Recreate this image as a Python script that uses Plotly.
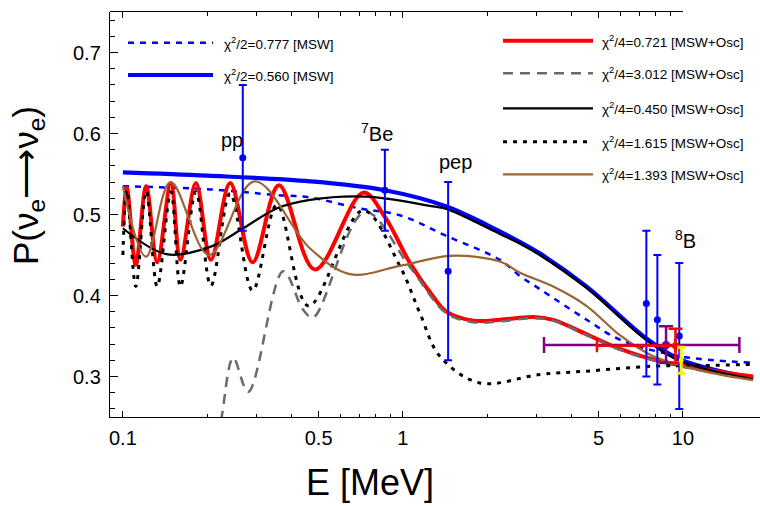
import math
import plotly.graph_objects as go

# ---------------- data ----------------
# MSW, chi^2/2 = 0.777 (blue dotted)
E_msw_a = [0.1, 0.205, 0.354, 0.466, 0.70, 0.976, 1.43, 2.22, 2.62, 3.08, 4.53, 5.95, 9.76, 17.8]
P_msw_a = [0.535, 0.531, 0.524, 0.521, 0.5075, 0.499, 0.4735, 0.444, 0.424, 0.408, 0.370, 0.3455, 0.325, 0.317]

# MSW, chi^2/2 = 0.560 (blue solid)
E_msw_b = [0.1, 0.2, 0.466, 0.862, 1.43, 2.0, 2.62, 3.08, 4.53, 7.4, 9.76, 17.8]
P_msw_b = [0.552, 0.548, 0.541, 0.530, 0.510, 0.487, 0.466, 0.452, 0.411, 0.347, 0.321, 0.298]

# MSW+Osc, chi^2/4 = 0.721 (red)
E_osc_a = [0.1, 0.1033, 0.1112, 0.1211, 0.1326, 0.1484, 0.1605, 0.1823, 0.2062, 0.2416,
           0.2905, 0.3607, 0.485, 0.722, 0.862, 1.06, 1.28, 1.43, 1.78, 2.22, 2.92, 3.44,
           4.53, 5.95, 7.83, 11.8, 17.8]
P_osc_a = [0.485, 0.533, 0.438, 0.535, 0.441, 0.539, 0.444, 0.539, 0.444, 0.539,
           0.441, 0.536, 0.432, 0.527, 0.497, 0.440, 0.399, 0.380, 0.369, 0.370, 0.3735, 0.370,
           0.352, 0.334, 0.321, 0.309, 0.300]

# MSW+Osc, chi^2/4 = 3.012 (gray dashed)
E_osc_b = [0.218, 0.2255, 0.2477, 0.2803, 0.3737, 0.44, 0.478, 0.732, 1.06, 1.43, 1.78,
           2.22, 2.92, 3.44, 4.53, 5.95, 7.83, 11.8, 17.8]
P_osc_b = [0.225, 0.251, 0.323, 0.281, 0.430, 0.3825, 0.373, 0.503, 0.435, 0.378, 0.367,
           0.368, 0.372, 0.369, 0.351, 0.333, 0.320, 0.307, 0.297]

# MSW+Osc, chi^2/4 = 0.450 (black solid)
E_osc_c = [0.1, 0.143, 0.205, 0.269, 0.354, 0.466, 0.742, 1.28, 1.43, 2.22, 2.62, 3.08, 4.53, 7.4, 9.76, 17.8]
P_osc_c = [0.483, 0.451, 0.460, 0.483, 0.5075, 0.518, 0.522, 0.510, 0.507, 0.476, 0.464, 0.450, 0.409, 0.345, 0.319, 0.2965]

# MSW+Osc, chi^2/4 = 1.615 (black dotted)
E_osc_d = [0.1, 0.1033, 0.1112, 0.1211, 0.1326, 0.1484, 0.1605, 0.1823, 0.2062, 0.2416,
           0.2905, 0.355, 0.46, 0.72, 0.976, 1.15, 1.355, 1.88, 3.08, 4.53, 7.83, 11.8, 17.8]
P_osc_d = [0.450, 0.530, 0.411, 0.529, 0.411, 0.528, 0.411, 0.528, 0.412, 0.526,
           0.406, 0.512, 0.387, 0.505, 0.436, 0.378, 0.325, 0.292, 0.3025, 0.3066, 0.3127, 0.3135, 0.315]

# MSW+Osc, chi^2/4 = 1.393 (brown)
E_osc_e = [0.1, 0.121, 0.148, 0.203, 0.295, 0.466, 0.647, 0.976, 1.47, 2.22, 2.62, 3.44,
           4.53, 5.95, 7.83, 11.8, 17.8]
P_osc_e = [0.535, 0.448, 0.540, 0.450, 0.541, 0.458, 0.4264, 0.4365, 0.449, 0.442, 0.428, 0.411,
           0.387, 0.351, 0.325, 0.3066, 0.2955]

# measured points (blue): pp, 7Be, pep, 8B x3
pts_E = [0.268, 0.862, 1.45, 7.4, 8.1, 9.7]
pts_P = [0.57, 0.53, 0.43, 0.39, 0.37, 0.35]
pts_err = [0.09, 0.05, 0.11, 0.09, 0.08, 0.09]

# 8B extra points (purple, red, yellow)
b8_purple = dict(E=8.7, P=0.339, ep=0.023, em=0.022, exp=7.2, exm=5.51)
b8_red = dict(E=9.4, P=0.338, ep=0.021, em=0.021, exp=0.0, exm=4.47)
b8_yellow = dict(E=9.85, P=0.32, ep=0.016, em=0.016)

source_labels = ["pp", "<sup>7</sup>Be", "pep", "<sup>8</sup>B"]
source_E = [0.245, 0.808, 1.546, 10.23]
source_P = [0.592, 0.6015, 0.5646, 0.4686]

x_major = [0.1, 0.5, 1, 5, 10]
x_major_text = ["0.1", "0.5", "1", "5", "10"]
x_minor = [0.09, 0.2, 0.3, 0.4, 0.6, 0.7, 0.8, 0.9, 2, 3, 4, 6, 7, 8, 9]
y_major = [0.3, 0.4, 0.5, 0.6, 0.7]

# ---------------- styling ----------------
FONT = "Liberation Sans, Arial, Helvetica, sans-serif"
W, H = 760, 506
L, R, T, B = 110, 760, 12, 417          # plot area in pixels
XLOG_MIN, XLOG_MAX = -1.046, 1.275
Y_MIN, Y_MAX = 0.25, 0.75


def px(xp):
    return (xp - L) / (R - L)


def py(yp):
    return (B - yp) / (B - T)


series = [
    dict(E=E_msw_a, P=P_msw_a, color="#0000ff", width=2.5, dash="6px,6px",
         label="χ<sup>2</sup>/2=0.777 [MSW]", grp="left"),
    dict(E=E_msw_b, P=P_msw_b, color="#0000ff", width=4.2, dash="solid",
         label="χ<sup>2</sup>/2=0.560 [MSW]", grp="left"),
    dict(E=E_osc_a, P=P_osc_a, color="#ff0000", width=4.0, dash="solid",
         label="χ<sup>2</sup>/4=0.721 [MSW+Osc]", grp="right"),
    dict(E=E_osc_b, P=P_osc_b, color="#6a6a6a", width=2.5, dash="10px,7px",
         label="χ<sup>2</sup>/4=3.012 [MSW+Osc]", grp="right"),
    dict(E=E_osc_c, P=P_osc_c, color="#000000", width=2.2, dash="solid",
         label="χ<sup>2</sup>/4=0.450 [MSW+Osc]", grp="right"),
    dict(E=E_osc_d, P=P_osc_d, color="#000000", width=3.0, dash="4px,6px",
         label="χ<sup>2</sup>/4=1.615 [MSW+Osc]", grp="right"),
    dict(E=E_osc_e, P=P_osc_e, color="#996633", width=2.2, dash="solid",
         label="χ<sup>2</sup>/4=1.393 [MSW+Osc]", grp="right"),
]

fig = go.Figure()

for s in series:
    fig.add_trace(go.Scatter(
        x=s["E"], y=s["P"], mode="lines",
        line=dict(color=s["color"], width=s["width"], dash=s["dash"],
                  shape="spline", smoothing=1.0),
        hoverinfo="skip", showlegend=False))

# blue data points
fig.add_trace(go.Scatter(
    x=pts_E, y=pts_P, mode="markers",
    marker=dict(color="#0000ff", size=7),
    error_y=dict(type="data", array=pts_err, color="#0000ff", thickness=2, width=4),
    showlegend=False, hoverinfo="skip"))

# 8B purple
fig.add_trace(go.Scatter(
    x=[b8_purple["E"]], y=[b8_purple["P"]], mode="markers",
    marker=dict(color="#800080", size=8),
    error_y=dict(type="data", array=[b8_purple["ep"]], arrayminus=[b8_purple["em"]],
                 color="#800080", thickness=2.5, width=7),
    error_x=dict(type="data", array=[b8_purple["exp"]], arrayminus=[b8_purple["exm"]],
                 color="#800080", thickness=2.5, width=8),
    showlegend=False, hoverinfo="skip"))

# 8B red
fig.add_trace(go.Scatter(
    x=[b8_red["E"]], y=[b8_red["P"]], mode="markers",
    marker=dict(color="#ff0000", size=7),
    error_y=dict(type="data", array=[b8_red["ep"]], arrayminus=[b8_red["em"]],
                 color="#ff0000", thickness=2.5, width=7),
    error_x=dict(type="data", array=[b8_red["exp"]], arrayminus=[b8_red["exm"]],
                 color="#ff0000", thickness=2.5, width=6.5),
    showlegend=False, hoverinfo="skip"))

# 8B yellow
fig.add_trace(go.Scatter(
    x=[b8_yellow["E"]], y=[b8_yellow["P"]], mode="markers",
    marker=dict(color="#ffee00", size=5),
    error_y=dict(type="data", array=[b8_yellow["ep"]], arrayminus=[b8_yellow["em"]],
                 color="#ffee00", thickness=3, width=4),
    showlegend=False, hoverinfo="skip"))

# invisible trace to carry the top frame axis (which stops at E = 10)
fig.add_trace(go.Scatter(x=[1.0], y=[0.5], mode="markers", marker=dict(opacity=0),
                         xaxis="x2", yaxis="y2", showlegend=False, hoverinfo="skip"))

annotations = []
for txt, e, p in zip(source_labels, source_E, source_P):
    annotations.append(dict(x=math.log10(e), y=p, xref="x", yref="y", text=txt,
                            showarrow=False, font=dict(family=FONT, size=20, color="black"),
                            xanchor="center", yanchor="middle"))

# axis titles
annotations.append(dict(x=px(370), y=py(482), xref="paper", yref="paper", text="E [MeV]",
                        showarrow=False, font=dict(family=FONT, size=36, color="black"),
                        xanchor="center", yanchor="middle"))
annotations.append(dict(x=px(28), y=py(186), xref="paper", yref="paper",
                        text="P(ν<sub>e</sub>⟶ν<sub>e</sub>)", textangle=-90,
                        showarrow=False, font=dict(family=FONT, size=35, color="black"),
                        xanchor="center", yanchor="middle"))

# custom legends (two blocks)
shapes = []
left_rows = [42.7, 75.0]
right_rows = [40.7, 73.3, 108.3, 141.7, 174.3]
li, ri = 0, 0
for s in series:
    if s["grp"] == "left":
        yrow = left_rows[li]; li += 1
        x0, x1, xt = 128, 213, 222
    else:
        yrow = right_rows[ri]; ri += 1
        x0, x1, xt = 503, 593, 600
    shapes.append(dict(type="line", xref="paper", yref="paper",
                       x0=px(x0), x1=px(x1), y0=py(yrow), y1=py(yrow),
                       line=dict(color=s["color"], width=s["width"], dash=s["dash"])))
    annotations.append(dict(x=px(xt), y=py(yrow), xref="paper", yref="paper",
                            text=s["label"], showarrow=False, xanchor="left", yanchor="middle",
                            font=dict(family=FONT, size=13.5, color="black")))

top_frac = (1.0 - XLOG_MIN) / (XLOG_MAX - XLOG_MIN)

fig.update_layout(
    width=W, height=H,
    margin=dict(l=L, r=W - R, t=T, b=H - B, pad=0),
    paper_bgcolor="white", plot_bgcolor="rgba(0,0,0,0)",
    showlegend=False,
    font=dict(family=FONT, color="black"),
    annotations=annotations,
    shapes=shapes,
    xaxis=dict(type="log", range=[XLOG_MIN, XLOG_MAX], domain=[0, 1],
               showline=True, linecolor="black", linewidth=1.2, mirror=False,
               ticks="inside", ticklen=6, tickwidth=1, tickcolor="black",
               tickvals=x_major, ticktext=x_major_text,
               tickfont=dict(family=FONT, size=20, color="black"),
               ticklabelstandoff=3,
               minor=dict(ticks="inside", ticklen=3.5, tickvals=x_minor, tickcolor="black",
                          showgrid=False),
               showgrid=False, zeroline=False, anchor="y"),
    yaxis=dict(range=[Y_MIN, Y_MAX], domain=[0, 1],
               showline=True, linecolor="black", linewidth=1.2, mirror=False,
               ticks="inside", ticklen=8, tickwidth=1, tickcolor="black",
               tickvals=y_major, tickformat=".1f",
               tickfont=dict(family=FONT, size=20, color="black"),
               ticklabelstandoff=4,
               minor=dict(ticks="inside", ticklen=4.5, dtick=0.02, tick0=0.0, tickcolor="black",
                          showgrid=False),
               showgrid=False, zeroline=False, anchor="x"),
    xaxis2=dict(type="log", range=[XLOG_MIN, 1.0], domain=[0, top_frac], side="top",
                anchor="y2", showline=True, linecolor="black", linewidth=1.2,
                ticks="inside", ticklen=6, tickcolor="black", tickvals=x_major,
                showticklabels=False,
                minor=dict(ticks="inside", ticklen=3.5, tickvals=x_minor, tickcolor="black"),
                showgrid=False, zeroline=False),
    yaxis2=dict(range=[Y_MIN, Y_MAX], domain=[0, 1], anchor="x2", visible=False,
                showgrid=False, zeroline=False),
)

fig.write_html("out.html",
               config={"displayModeBar": False, "staticPlot": True},
               post_script="document.body.style.margin='0px';document.body.style.overflow='hidden';")
